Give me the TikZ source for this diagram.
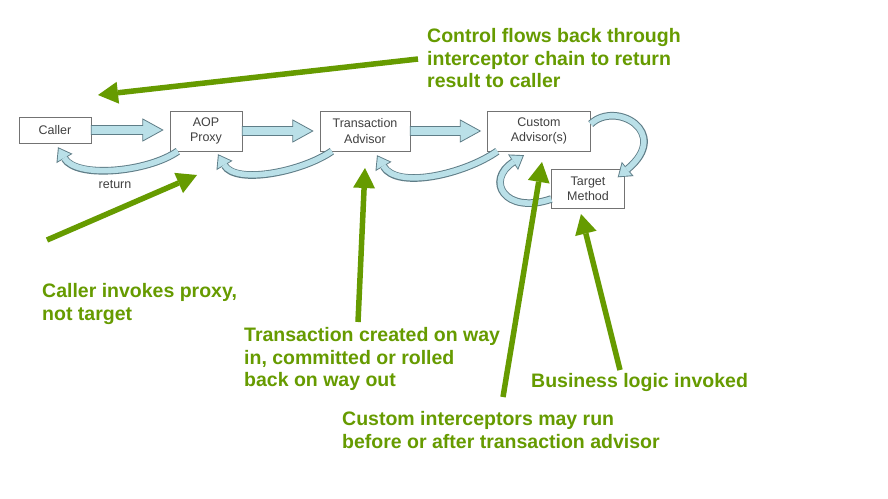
\documentclass[tikz,border=0pt]{standalone}
\usepackage{fontspec}
\setmainfont{Liberation Sans}
\usetikzlibrary{arrows.meta,calc}

\definecolor{notegreen}{RGB}{102,155,0}
\definecolor{flowfill}{RGB}{186,224,232}
\definecolor{flowline}{RGB}{95,125,135}
\definecolor{boxline}{RGB}{115,115,115}

\tikzset{
  box/.style={draw=boxline, fill=white, text=black!75, align=center, inner sep=0pt,
    font=\fontsize{12.5}{15.5}\selectfont},
  note/.style={text=notegreen, anchor=north west, align=left, inner sep=0pt,
    font=\fontsize{19.5}{22.7}\selectfont\bfseries},
  pointer/.style={draw=notegreen, line width=5.5pt,
    -{Triangle[length=20pt,width=22pt,line width=0pt]}},
  flow/.style={draw=flowline, fill=flowfill, line width=0.8pt, line join=miter},
  goback/.style={draw=flowfill, line width=5.6pt, shorten >=1.6pt,
    -{Triangle[length=10.5pt,width=15pt,line width=0pt]},
    preaction={draw=flowline, line width=7.6pt, shorten >=0pt,
      -{Triangle[length=13pt,width=18.5pt,line width=0pt]}}}
}

% block arrow between two boxes
\newcommand\flowto[2]{%
  \draw[flow] let \p1=(#1.east), \p2=(#2.west) in
    (\x1,\y1+4.5pt) -- (\x2-27pt,\y1+4.5pt) -- (\x2-27pt,\y1+11pt) -- (\x2-7pt,\y1)
    -- (\x2-27pt,\y1-11pt) -- (\x2-27pt,\y1-4.5pt) -- (\x1,\y1-4.5pt) -- cycle;}

\begin{document}
\begin{tikzpicture}[x=1pt,y=1pt]
\fill[white] (0,0) rectangle (888,-498);
\useasboundingbox (0,0) rectangle (888,-498);

\node[box, minimum width=72pt, minimum height=26pt] (caller) at (55,-130) {Caller};
\node[box, minimum width=72pt, minimum height=40pt] (proxy) at (206,-131) {AOP\\Proxy};
\node[box, minimum width=90pt, minimum height=40pt] (txadv) at (365,-131) {Transaction\\Advisor};
\node[box, minimum width=103pt, minimum height=40pt] (custom) at (539,-131) {Custom\\Advisor(s)};
\node[box, minimum width=73pt, minimum height=39pt] (target) at (588,-189) {Target\\Method};

\flowto{caller}{proxy}
\flowto{proxy}{txadv}
\flowto{txadv}{custom}

% way back
\draw[goback] ($(proxy.south west)+(8,0)$) to[out=-145, in=-60, looseness=0.78] ($(caller.south)+(3,-4)$);
\draw[goback] ($(txadv.south west)+(12,0)$) to[out=-145, in=-60, looseness=0.8] ($(proxy.south)+(12,-3)$);
\draw[goback] ($(custom.south west)+(10,0)$) to[out=-145, in=-60, looseness=0.85] ($(txadv.south)+(12,-4)$);
\draw[goback] ($(custom.east)+(0,7)$) .. controls ($(custom.east)+(25,31)$) and ($(target.north east)+(47,37)$) .. ($(target.north east)+(-7,-8)$);
\draw[goback] ($(target.west)+(0,-10)$) .. controls ($(target.west)+(-47,-26)$) and ($(custom.south)+(-54,-29)$) .. ($(custom.south)+(-15,-4)$);

\node[text=black!75, font=\fontsize{12.5}{15}\selectfont] (retlabel) at (115,-185) {return};

\node[note] (backnote) at (427,-28) {Control flows back through\\interceptor chain to return\\result to caller};
\node[note] (callnote) at (42,-283) {Caller invokes proxy,\\not target};
\node[note] (txnote) at (244,-327) {Transaction created on way\\in, committed or rolled\\back on way out};
\node[note] (bizznote) at (531,-373) {Business logic invoked};
\node[note] (customnote) at (342,-411) {Custom interceptors may run\\before or after transaction advisor};

\coordinate (backtail) at (418,-59);   \coordinate (backtip) at (98,-95);
\coordinate (calltail) at (47,-240);   \coordinate (calltip) at (197,-175);
\coordinate (txtail) at (358,-322);    \coordinate (txtip) at (365,-168);
\coordinate (customtail) at (503,-397); \coordinate (customtip) at (542,-162);
\coordinate (bizztail) at (620,-370);  \coordinate (bizztip) at (581,-214);

\draw[pointer] (backtail) -- (backtip);
\draw[pointer] (calltail) -- (calltip);
\draw[pointer] (txtail) -- (txtip);
\draw[pointer] (customtail) -- (customtip);
\draw[pointer] (bizztail) -- (bizztip);
\end{tikzpicture}
\end{document}
